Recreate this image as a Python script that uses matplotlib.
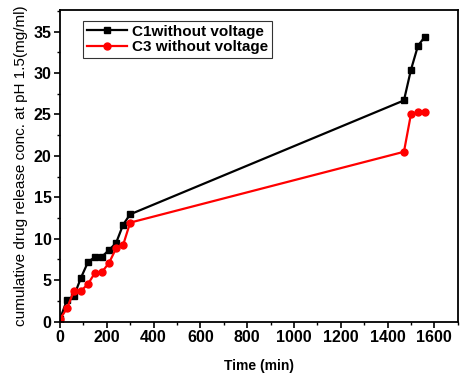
import matplotlib
matplotlib.use("Agg")
from matplotlib import pyplot as plt
from matplotlib.ticker import MultipleLocator

plt.rcParams['font.family'] = ['Liberation Sans', 'DejaVu Sans']

tiempo = [0, 30, 60, 90, 120, 150, 180, 210, 240, 270, 300, 1470, 1500, 1530, 1560]
c1_sin_voltaje = [0.3, 2.6, 3.1, 5.3, 7.2, 7.8, 7.85, 8.65, 9.5, 11.7, 12.95, 26.7, 30.4, 33.3, 34.4]
c3_sin_voltaje = [0.3, 1.6, 3.7, 3.7, 4.55, 5.9, 6.0, 7.1, 8.85, 9.25, 11.95, 20.5, 25.05, 25.3, 25.25]

fig = plt.figure(figsize=(4.61, 3.74), dpi=100)
ax = fig.add_axes([0.130, 0.140, 0.863, 0.833])

ax.plot(tiempo, c1_sin_voltaje, color='black', marker='s', markersize=5, linewidth=1.6,
        label='C1without voltage')
ax.plot(tiempo, c3_sin_voltaje, color='red', marker='o', markersize=5, linewidth=1.6,
        label='C3 without voltage')

ax.set_xlim(0, 1700)
ax.set_ylim(0, 37.6)
ax.xaxis.set_major_locator(MultipleLocator(200))
ax.xaxis.set_minor_locator(MultipleLocator(100))
ax.yaxis.set_major_locator(MultipleLocator(5))
ax.yaxis.set_minor_locator(MultipleLocator(2.5))
ax.tick_params(which='major', direction='out', length=4, width=1.2, labelsize=11.5, pad=2)
ax.tick_params(which='minor', direction='out', length=2.5, width=1.0)
for lab in ax.get_xticklabels() + ax.get_yticklabels():
    lab.set_fontweight('bold')
for s in ax.spines.values():
    s.set_linewidth(1.3)

ax.set_xlabel('Time (min)', fontsize=10, fontweight='bold', labelpad=10)
ax.set_ylabel('cumulative drug release conc. at pH 1.5(mg/ml)', fontsize=11, labelpad=4)

leg = ax.legend(loc='upper left', bbox_to_anchor=(0.04, 0.99),
                prop={'weight': 'bold', 'size': 11}, fancybox=False, edgecolor='black',
                borderpad=0.25, labelspacing=0.1, handlelength=2.6, handletextpad=0.3)
leg.get_frame().set_linewidth(0.8)

fig.savefig('out.png', dpi=100)
